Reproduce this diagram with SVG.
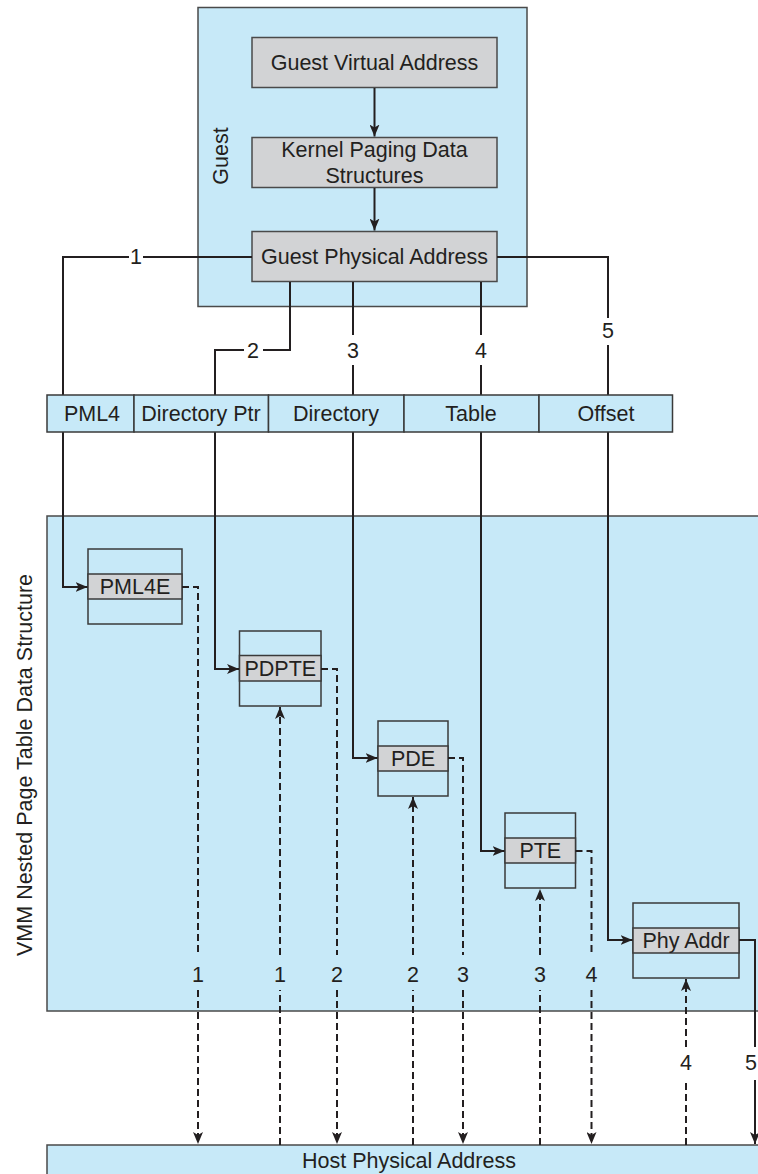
<svg xmlns="http://www.w3.org/2000/svg" width="758" height="1174" viewBox="0 0 758 1174">
<defs>
<marker id="ah" viewBox="0 0 12 10" refX="12" refY="5" markerWidth="12" markerHeight="10" markerUnits="userSpaceOnUse" orient="auto">
<path d="M0,0 L12,5 L0,10 L3,5 z" fill="#231f20"/>
</marker>
<style>
.bg{fill:#c7e9f8;stroke:#4a4a4a;stroke-width:1.5}
.box{fill:#d2d3d5;stroke:#4a4a4a;stroke-width:1.5}
.cell{fill:#c7e9f8;stroke:#3a3a3a;stroke-width:1.5}
.ent{fill:none;stroke:#3a3a3a;stroke-width:1.5}
.mid{fill:#d2d3d5;stroke:#3a3a3a;stroke-width:1.5}
.t{font-family:"Liberation Sans",Arial,sans-serif;font-size:21.5px;fill:#231f20;text-anchor:middle}
.s{fill:none;stroke:#231f20;stroke-width:2}
.d{fill:none;stroke:#231f20;stroke-width:2;stroke-dasharray:7,4}
</style>
</defs>
<rect width="758" height="1174" fill="#ffffff"/>

<g id="guest">
<rect class="bg" x="198" y="7.5" width="329" height="299"/>
<text class="t" transform="translate(228,156) rotate(-90)">Guest</text>
</g>

<g id="vmm">
<rect class="bg" x="47" y="516" width="720" height="495"/>
<text class="t" transform="translate(32,765) rotate(-90)">VMM Nested Page Table Data Structure</text>
</g>

<g id="host">
<rect class="bg" x="47" y="1145" width="720" height="40"/>
<text class="t" x="409" y="1168">Host Physical Address</text>
</g>

<g id="gva">
<rect class="box" x="252" y="37.5" width="245" height="50"/>
<text class="t" x="374.5" y="70">Guest Virtual Address</text>
</g>

<g id="kpds">
<rect class="box" x="252" y="137.5" width="245" height="50"/>
<text class="t" x="374.5" y="157">Kernel Paging Data</text>
<text class="t" x="374.5" y="183">Structures</text>
</g>

<g id="gpa">
<rect class="box" x="252" y="231.5" width="245" height="50"/>
<text class="t" x="374.5" y="264">Guest Physical Address</text>
</g>

<g id="pml4e">
<rect class="ent" x="88" y="549" width="94" height="75"/>
<rect class="mid" x="88" y="574" width="94" height="25"/>
<text class="t" x="135" y="594">PML4E</text>
</g>

<g id="pdpte">
<rect class="ent" x="239.5" y="631" width="81.5" height="75"/>
<rect class="mid" x="239.5" y="655.5" width="81.5" height="25.5"/>
<text class="t" x="280.3" y="676">PDPTE</text>
</g>

<g id="pde">
<rect class="ent" x="378" y="721" width="70" height="75"/>
<rect class="mid" x="378" y="746" width="70" height="25"/>
<text class="t" x="413" y="766">PDE</text>
</g>

<g id="pte">
<rect class="ent" x="505" y="813" width="70.5" height="75"/>
<rect class="mid" x="505" y="838" width="70.5" height="25"/>
<text class="t" x="540.3" y="858">PTE</text>
</g>

<g id="phyaddr">
<rect class="ent" x="633" y="903" width="106" height="75"/>
<rect class="mid" x="633" y="928" width="106" height="25"/>
<text class="t" x="686" y="948">Phy Addr</text>
</g>

<g id="connectors">
<path class="s" d="M374.5,88 V136.5" marker-end="url(#ah)"/>
<path class="s" d="M374.5,188 V230.5" marker-end="url(#ah)"/>
<path class="s" d="M252,257 H143"/>
<path class="s" d="M129,257 H63 V587 H87.5" marker-end="url(#ah)"/>
<path class="s" d="M290,282 V350 H263"/>
<path class="s" d="M244,350 H215 V669 H239" marker-end="url(#ah)"/>
<path class="s" d="M353,282 V335"/>
<path class="s" d="M353,365 V758 H377.5" marker-end="url(#ah)"/>
<path class="s" d="M481,282 V335"/>
<path class="s" d="M481,365 V851 H504.5" marker-end="url(#ah)"/>
<path class="s" d="M497,257 H608 V318"/>
<path class="s" d="M608,345 V940 H632.5" marker-end="url(#ah)"/>
<path class="s" d="M739,940 H755 V1047"/>
<path class="s" d="M755,1080 V1144" marker-end="url(#ah)"/>
<path class="d" d="M182,587 H198 V955"/>
<path class="d" d="M198,990 V1144" marker-end="url(#ah)"/>
<path class="d" d="M321,669 H337 V955"/>
<path class="d" d="M337,990 V1144" marker-end="url(#ah)"/>
<path class="d" d="M448,758 H463 V955"/>
<path class="d" d="M463,990 V1144" marker-end="url(#ah)"/>
<path class="d" d="M575.5,851 H591.5 V955"/>
<path class="d" d="M591.5,990 V1144" marker-end="url(#ah)"/>
<path class="d" d="M280,1145 V990"/>
<path class="d" d="M280,955 V707" marker-end="url(#ah)"/>
<path class="d" d="M413,1145 V990"/>
<path class="d" d="M413,955 V797" marker-end="url(#ah)"/>
<path class="d" d="M540,1145 V990"/>
<path class="d" d="M540,955 V889" marker-end="url(#ah)"/>
<path class="d" d="M686,1145 V1080"/>
<path class="d" d="M686,1047 V979" marker-end="url(#ah)"/>
</g>

<g id="labels">
<text class="t" x="136" y="264">1</text>
<text class="t" x="253" y="358">2</text>
<text class="t" x="353" y="358">3</text>
<text class="t" x="481" y="358">4</text>
<text class="t" x="608" y="338">5</text>
<text class="t" x="198" y="982">1</text>
<text class="t" x="280" y="982">1</text>
<text class="t" x="337" y="982">2</text>
<text class="t" x="413" y="982">2</text>
<text class="t" x="463" y="982">3</text>
<text class="t" x="540" y="982">3</text>
<text class="t" x="591.5" y="982">4</text>
<text class="t" x="686" y="1070">4</text>
<text class="t" x="751" y="1070">5</text>
</g>

<g id="address-fields">
<rect class="cell" x="47" y="395" width="87" height="37"/>
<rect class="cell" x="134" y="395" width="134.5" height="37"/>
<rect class="cell" x="268.5" y="395" width="135.5" height="37"/>
<rect class="cell" x="404" y="395" width="135" height="37"/>
<rect class="cell" x="539" y="395" width="133.5" height="37"/>
<text class="t" x="92" y="421">PML4</text>
<text class="t" x="201" y="421">Directory Ptr</text>
<text class="t" x="336" y="421">Directory</text>
<text class="t" x="471" y="421">Table</text>
<text class="t" x="606" y="421">Offset</text>
</g>
</svg>
